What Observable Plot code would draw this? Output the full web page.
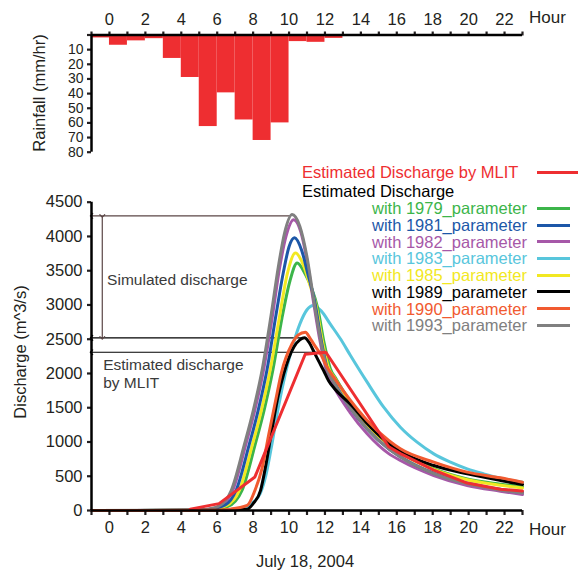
<!DOCTYPE html>
<html><head><meta charset="utf-8">
<script src="https://cdn.jsdelivr.net/npm/d3@7"></script>
<script src="https://cdn.jsdelivr.net/npm/@observablehq/plot@0.6"></script>
<style>
body{margin:0;background:#fff;}
#wrap{position:relative;width:582px;height:572px;font-family:"Liberation Sans",Arial,sans-serif;color:#231f20;overflow:hidden;}
#wrap svg{position:absolute;left:0;}
.t{position:absolute;font-size:16.5px;white-space:nowrap;line-height:18px;}
.sw{position:absolute;height:3px;}
</style></head><body><div id="wrap"></div>
<script>
// ---------- data ----------
const rainHours = [-1,0,1,2,3,4,5,6,7,8,9,10,11,12,13,14,15,16,17,18,19,20,21,22];
const rainfall  = [2,7,4,2.5,16,29,62.5,39.5,58,72,60,4.5,5,2.3,1,1,1,1,1,1,1,1,1,1];
const hourTicks = d3.range(-1,24);
const rainTicks = [0,10,20,30,40,50,60,70,80];
const dischargeTicks = [0,500,1000,1500,2000,2500,3000,3500,4000,4500];

const qMLIT = [[4.5,20],[6.1,100],[8.1,490],[10.9,2280],[12.05,2310],[15.55,930],[16.2,830],[18.06,590],[19.92,400],[21.77,310],[23,285]];
const q1979 = [[-1,0],[4.5,3],[5.5,10],[6.6,60],[7.38,292],[8.1,950],[8.6,1450],[9.1,2050],[9.6,2800],[10.05,3350],[10.45,3611],[10.9,3450],[11.25,3250],[11.6,2950],[11.95,2450],[12.3,2070],[12.6,1930],[13.4,1590],[14.35,1260],[15.55,965],[16.2,850],[18.06,610],[19.92,460],[21.77,385],[23,345]];
const q1981 = [[-1,0],[4.5,4],[5.5,15],[6.45,80],[7.05,292],[7.77,950],[8.27,1450],[8.77,2050],[9.27,2850],[9.7,3500],[10.0,3850],[10.3,3981],[10.7,3800],[11.05,3450],[11.42,3066],[11.78,2500],[12.12,2080],[12.5,1880],[13.4,1500],[14.35,1190],[15.55,900],[16.2,785],[18.06,545],[19.92,400],[21.77,310],[23,265]];
const q1982 = [[-1,0],[4.5,5],[5.5,18],[6.28,80],[6.86,292],[7.58,950],[8.08,1450],[8.58,2050],[9.08,2850],[9.48,3550],[9.83,4000],[10.26,4243],[10.65,4070],[11.0,3650],[11.35,3066],[11.72,2480],[12.1,2020],[12.5,1800],[13.4,1430],[14.35,1120],[15.55,830],[16.2,730],[18.06,511],[19.92,365],[21.77,282],[23,233]];
const q1983 = [[-1,0],[5,2],[6.5,10],[7.5,40],[7.9,100],[8.4,250],[8.7,500],[9.0,900],[9.4,1500],[9.8,2000],[10.2,2400],[10.6,2720],[11.0,2930],[11.35,2993],[11.8,2910],[12.3,2720],[12.86,2506],[13.42,2263],[14.35,1873],[15.27,1508],[16.2,1216],[17.13,997],[18.06,827],[18.99,706],[19.92,608],[20.84,535],[21.77,472],[23,413]];
const q1985 = [[-1,0],[4.5,3],[5.5,12],[6.5,70],[7.23,292],[7.95,950],[8.45,1450],[8.95,2050],[9.45,2800],[9.9,3450],[10.36,3757],[10.8,3580],[11.15,3300],[11.5,3000],[11.85,2480],[12.2,2080],[12.5,1950],[13.4,1570],[14.35,1250],[15.55,960],[16.2,840],[18.06,600],[19.92,450],[21.77,370],[23,330]];
const q1989 = [[-1,0],[6.5,5],[7.67,20],[8.0,100],[8.41,290],[8.7,650],[9.06,1200],[9.4,1680],[9.71,2000],[10.26,2384],[10.6,2490],[10.86,2521],[11.1,2460],[11.38,2320],[11.65,2180],[11.93,2040],[12.21,1890],[12.6,1760],[13.5,1530],[14.35,1270],[15.3,1030],[16.2,860],[18.06,657],[19.92,535],[21.77,438],[23,380]];
const q1990 = [[-1,0],[5.5,2],[6.74,20],[7.67,73],[8.1,292],[8.5,620],[8.9,1150],[9.25,1600],[9.56,1995],[10.17,2433],[10.5,2560],[10.91,2603],[11.2,2500],[11.5,2380],[11.75,2287],[12.1,2100],[12.49,1946],[13.42,1606],[14.35,1314],[15.55,1022],[16.2,900],[18.06,706],[19.92,560],[21.77,477],[23,413]];
const q1993 = [[-1,0],[4.5,5],[5.5,20],[6.2,80],[6.78,292],[7.5,950],[8.0,1450],[8.5,2050],[9.0,2850],[9.4,3550],[9.75,4050],[10.17,4320],[10.6,4150],[11.0,3700],[11.38,3066],[11.75,2500],[12.1,2080],[12.5,1870],[13.4,1500],[14.35,1190],[15.55,900],[16.2,780],[18.06,540],[19.92,390],[21.77,300],[23,255]];

const seriesNames  = ["with 1979_parameter","with 1981_parameter","with 1982_parameter","with 1983_parameter","with 1985_parameter","with 1989_parameter","with 1990_parameter","with 1993_parameter"];
const seriesData   = [q1979,q1981,q1982,q1983,q1985,q1989,q1990,q1993];
const seriesColors = ["#3cb54a","#1c57a8","#a658a8","#58c6dc","#f2e822","#000000","#f15a30","#808080"];
const mlitName = "Estimated Discharge by MLIT";
const mlitColor = "#ee2e31";
const drawOrder = [3,0,4,2,1,7,5,6];

// annotation values
const annotLevels = [4300, 2520, 2310];
const annotEnds   = [10.1, 10.85, 12.1];
const annotColors = ["#5b4646","#000000","#000000"];
const arrowHour = -0.4;

// ---------- layout ----------
const FONT = '"Liberation Sans", Arial, sans-serif';
const wrap = document.getElementById("wrap");
const styleBase = {fontFamily: FONT, fontSize: "16.5px", color: "#231f20", background: "transparent", overflow: "visible"};
const fmt = d => (d >= 0 && d % 2 === 0) ? String(d) : "";

const rainRows = rainHours.map((h,i) => ({h, mm: rainfall[i]}));

const topPlot = Plot.plot({
  width: 582, height: 160,
  marginLeft: 91, marginRight: 60, marginTop: 34.5, marginBottom: 8.3,
  x: {domain: [-1, 23]},
  y: {domain: [0, 80], reverse: true},
  style: styleBase,
  marks: [
    Plot.rect(rainRows, {x1: "h", x2: d => d.h + 1, y1: 0, y2: "mm", fill: mlitColor}),
    Plot.axisX({anchor: "top", ticks: hourTicks, tickFormat: fmt, tickSize: 4, tickPadding: 6, strokeWidth: 2.2, label: null}),
    Plot.axisY({ticks: rainTicks, tickFormat: d => d === 0 ? "" : String(d), tickSize: 4, tickPadding: 4, strokeWidth: 2.2, fontSize: 14, label: null}),
    Plot.ruleY([0], {stroke: "#000", strokeWidth: 2.5}),
    Plot.ruleX([-1], {y1: 0, y2: 80, stroke: "#000", strokeWidth: 2.5})
  ]
});
topPlot.style.top = "0px";
wrap.appendChild(topPlot);

const lineMarks = drawOrder.map(i =>
  Plot.line(seriesData[i], {x: d => d[0], y: d => d[1], stroke: seriesColors[i], strokeWidth: 3, curve: "monotone-x"})
);

const annotRows = annotLevels.map((v,i) => ({v, end: annotEnds[i], c: annotColors[i]}));

const botPlot = Plot.plot({
  width: 582, height: 412,
  marginLeft: 91, marginRight: 60, marginTop: 41.7, marginBottom: 62,
  x: {domain: [-1, 23]},
  y: {domain: [0, 4500]},
  style: styleBase,
  marks: [
    Plot.link(annotRows, {x1: "end", x2: -1, y1: "v", y2: "v", stroke: "c", strokeWidth: 1.2, markerEnd: "arrow"}),
    Plot.link([{a: annotLevels[0], b: annotLevels[1]}], {x1: arrowHour, x2: arrowHour, y1: "a", y2: "b", stroke: annotColors[0], strokeWidth: 1.2, markerStart: "arrow", markerEnd: "arrow"}),
    Plot.text(["Simulated discharge"], {x: -0.13, y: 3368, textAnchor: "start", fill: "#3a3a3a", fontSize: 15.5}),
    Plot.text(["Estimated discharge\nby MLIT"], {x: -0.35, y: 2010, textAnchor: "start", lineHeight: 1.16, fill: "#3a3a3a", fontSize: 15.5}),
    ...lineMarks,
    Plot.line(qMLIT, {x: d => d[0], y: d => d[1], stroke: mlitColor, strokeWidth: 3}),
    Plot.axisX({ticks: hourTicks, tickFormat: fmt, tickSize: 5, tickPadding: 6, strokeWidth: 2.2, label: null}),
    Plot.axisY({ticks: dischargeTicks, tickFormat: d => String(d), tickSize: 4, tickPadding: 5, strokeWidth: 2.2, label: null}),
    Plot.ruleY([0], {x1: -1, x2: 23, stroke: "#000", strokeWidth: 2.5}),
    Plot.ruleX([-1], {y1: 0, y2: 4500, stroke: "#000", strokeWidth: 2.5})
  ]
});
botPlot.style.top = "160px";
wrap.appendChild(botPlot);

// ---------- html text: titles, legend ----------
function addText(txt, css) {
  const d = document.createElement("div");
  d.className = "t";
  d.textContent = txt;
  Object.assign(d.style, css);
  wrap.appendChild(d);
  return d;
}
addText("Hour", {left: "529px", top: "9px", fontSize: "17px"});
addText("Hour", {left: "529px", top: "521px", fontSize: "17px"});
addText("July 18, 2004", {left: "305px", top: "552px", transform: "translateX(-50%)"});
addText("Rainfall (mm/hr)", {left: "39px", top: "93px", transform: "translate(-50%,-50%) rotate(-90deg)"});
addText("Discharge (m^3/s)", {left: "20px", top: "352px", transform: "translate(-50%,-50%) rotate(-90deg)"});

// legend
addText(mlitName, {left: "302px", top: (172 - 9) + "px", color: mlitColor});
const sw0 = document.createElement("div"); sw0.className = "sw";
Object.assign(sw0.style, {left: "537px", width: "41px", top: "171px", background: mlitColor});
wrap.appendChild(sw0);
addText("Estimated Discharge", {left: "302px", top: (190.5 - 9) + "px", color: "#000"});
seriesNames.forEach((name, i) => {
  const y = 208.3 + i * 16.7;
  addText(name, {right: (582 - 527) + "px", top: (y - 9) + "px", color: seriesColors[i]});
  const s = document.createElement("div"); s.className = "sw";
  Object.assign(s.style, {left: "537px", width: "33px", top: (y - 1.5) + "px", background: seriesColors[i]});
  wrap.appendChild(s);
});
</script></body></html>
